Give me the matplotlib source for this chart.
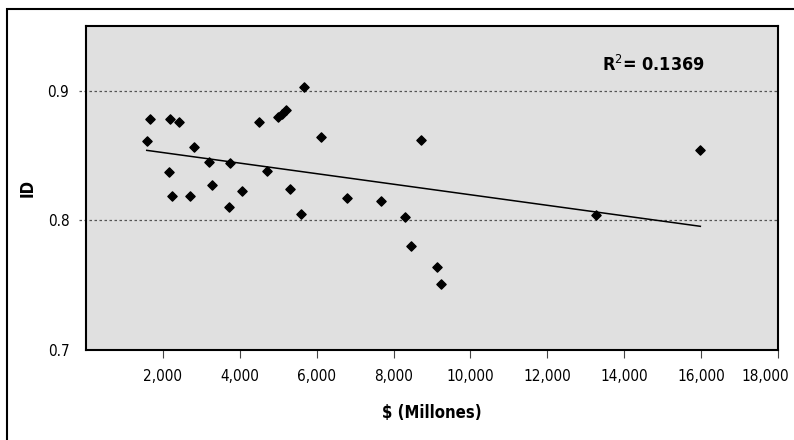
import numpy as np
import matplotlib.pyplot as plt
import matplotlib.transforms as mtransforms
from matplotlib.patches import Rectangle

# $ (Millones) vs ID
gasto = [1580, 1660, 2190, 2410, 2170, 2240, 2710, 2820, 3200, 3280,
         3750, 3720, 4060, 4510, 4710, 4990, 5110, 5200, 5300, 5590,
         5660, 6110, 6790, 7670, 8300, 8450, 8720, 9130, 9230, 13270, 15980]
indice = [0.861, 0.878, 0.878, 0.876, 0.837, 0.819, 0.819, 0.857, 0.845, 0.827,
          0.844, 0.810, 0.823, 0.876, 0.838, 0.880, 0.882, 0.885, 0.824, 0.805,
          0.903, 0.864, 0.817, 0.815, 0.803, 0.780, 0.862, 0.764, 0.751, 0.804, 0.854]

x_ticks = [2000, 4000, 6000, 8000, 10000, 12000, 14000, 16000, 18000]
y_ticks = [0.7, 0.8, 0.9]
r2_label = 'R$^2$= 0.1369'

plt.rcParams['font.family'] = ['DejaVu Sans']
plt.rcParams['font.stretch'] = 'condensed'
plt.rcParams['mathtext.fontset'] = 'dejavusans'

fig = plt.figure(figsize=(7.94, 4.40), dpi=100)
ax = fig.add_axes([86 / 794, 1 - 350 / 440, (778 - 86) / 794, (350 - 26) / 440])

# outer frame (runs off the right/bottom edge like the original)
fig.patches.append(Rectangle((7 / 794, -0.01), 0.999, 1 - 9 / 440 + 0.01,
                             transform=fig.transFigure, fill=False,
                             edgecolor='black', linewidth=1.5))

ax.set_facecolor('#e0e0e0')
for s in ax.spines.values():
    s.set_linewidth(1.5)
    s.set_color('black')

for y in [0.8, 0.9]:
    ax.axhline(y, xmin=-0.01, xmax=1, color='#555555', linestyle=(0, (2, 2)),
               linewidth=0.9, clip_on=False, zorder=1)

ax.scatter(gasto, indice, marker='D', s=22, color='black', zorder=3)

# linear trend line
m, b = np.polyfit(gasto, indice, 1)
xs = np.array([min(gasto), max(gasto)])
ax.plot(xs, m * xs + b, color='black', linewidth=1.1, zorder=2)

ax.set_xlim(0, 18000)
ax.set_ylim(0.703, 0.95)
ax.set_xticks(x_ticks)
ax.set_xticklabels([f'{v:,}' for v in x_ticks])
ax.set_yticks(y_ticks)
ax.set_yticklabels([str(v) for v in y_ticks])
ax.tick_params(axis='x', length=6, width=0.8, color='#444444', pad=8, labelsize=11)
ax.tick_params(axis='y', length=0, pad=12, labelsize=11)

# last x label is pulled left so it stays inside the figure
last = ax.get_xticklabels()[-1]
last.set_transform(last.get_transform() +
                   mtransforms.ScaledTranslation(-13 / 100, 0, fig.dpi_scale_trans))

ax.set_xlabel('$ (Millones)', fontsize=12, weight='bold', labelpad=14)
ax.set_ylabel('ID', fontsize=12, weight='bold', labelpad=8)

ax.text(0.82, 0.88, r2_label, transform=ax.transAxes, ha='center', va='center',
        fontsize=13, weight='bold')

plt.savefig('out.png', dpi=100)
